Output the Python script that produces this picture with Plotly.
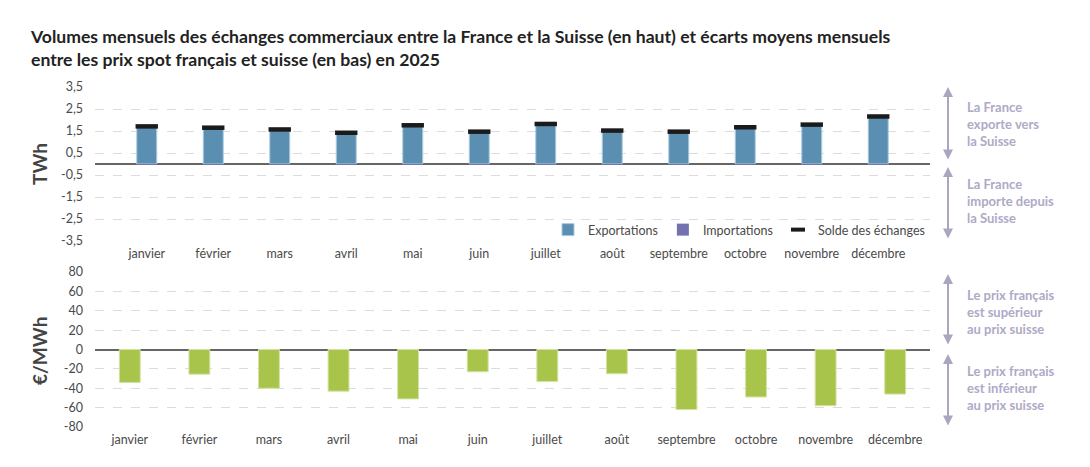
import plotly.graph_objects as go

MONTHS = ['janvier', 'février', 'mars', 'avril', 'mai', 'juin', 'juillet',
          'août', 'septembre', 'octobre', 'novembre', 'décembre']

# TWh
EXPORTS = [1.72, 1.66, 1.58, 1.45, 1.78, 1.48, 1.83, 1.53, 1.48, 1.68, 1.80, 2.17]
IMPORTS = [-0.01, -0.01, -0.01, -0.03, -0.02, -0.01, -0.01, -0.01, -0.01, -0.01, -0.01, -0.01]
SOLDE = [1.71, 1.65, 1.57, 1.42, 1.76, 1.47, 1.82, 1.52, 1.47, 1.67, 1.79, 2.16]

# €/MWh
PRICE_SPREAD = [-34, -25.5, -40, -43, -51, -23, -33, -25, -62, -49, -58, -46]

TOP_TICKS = [-3.5, -2.5, -1.5, -0.5, 0.5, 1.5, 2.5, 3.5]
BOTTOM_TICKS = [-80, -60, -40, -20, 0, 20, 40, 60, 80]

# the page body has an 8px margin, so the figure is drawn a bit smaller
OFF = 8
W, H = 1090 - 2 * OFF, 467 - 2 * OFF
FONT = 'Lato'
TICK_COLOR = '#4a4a4a'
NOTE_COLOR = '#aeaac6'
ARROW_COLOR = '#a9a6c0'
SOLDE_COLOR = '#1b1b1b'


def px_x(x):
    return (x - OFF) / W


def px_y(y):
    return 1 - (y - OFF) / H


fig = go.Figure()

fig.add_trace(go.Bar(
    x=MONTHS, y=EXPORTS, name='Exportations',
    marker=dict(color='#5b8fb1', line=dict(color='#a9cbe0', width=1)),
    xaxis='x', yaxis='y',
))
fig.add_trace(go.Bar(
    x=MONTHS, y=IMPORTS, name='Importations',
    marker=dict(color='#7571b0', line=dict(color='#7571b0', width=0)),
    xaxis='x', yaxis='y',
))
fig.add_trace(go.Scatter(
    x=MONTHS, y=SOLDE, name='Solde des échanges', mode='markers',
    legendgroup='solde', showlegend=False,
    marker=dict(symbol='line-ew', size=16, line=dict(color=SOLDE_COLOR, width=4.5)),
    xaxis='x', yaxis='y',
))
# legend entry only (smaller dash)
fig.add_trace(go.Scatter(
    x=[None], y=[None], name='Solde des échanges', mode='markers',
    legendgroup='solde',
    marker=dict(symbol='line-ew', size=10, line=dict(color=SOLDE_COLOR, width=4)),
    xaxis='x', yaxis='y',
))
fig.add_trace(go.Bar(
    x=MONTHS, y=PRICE_SPREAD, name='Écart de prix', showlegend=False,
    marker=dict(color='#a8c44b', line=dict(color='#d3e3a0', width=1)),
    xaxis='x2', yaxis='y2',
))

x_dom = [px_x(95), px_x(930)]
xcommon = dict(
    type='category', showgrid=False, showline=False, zeroline=False,
    ticks='', tickfont=dict(family=FONT, size=12.5, color=TICK_COLOR),
    ticklabelstandoff=3,
    domain=x_dom, fixedrange=True, automargin=False,
)
ycommon = dict(
    showgrid=True, gridcolor='#dcdcdc', griddash='dash', gridwidth=1,
    zeroline=True, zerolinecolor='#666666', zerolinewidth=1.5,
    showline=False, ticks='', automargin=False, ticklabelstandoff=11,
    tickfont=dict(family=FONT, size=12.5, color=TICK_COLOR),
)

fig.update_layout(
    width=W, height=H,
    margin=dict(l=0, r=0, t=0, b=0),
    paper_bgcolor='white', plot_bgcolor='white',
    barmode='relative', bargap=0.7,
    xaxis=dict(**xcommon, anchor='y'),
    xaxis2=dict(**xcommon, anchor='y2'),
    yaxis=dict(**ycommon, domain=[px_y(241), px_y(87)], range=[-3.5, 3.5],
               tickvals=TOP_TICKS,
               ticktext=[f'{v:.1f}'.replace('.', ',') for v in TOP_TICKS]),
    yaxis2=dict(**ycommon, domain=[px_y(427), px_y(272)], range=[-80, 80],
                tickvals=BOTTOM_TICKS,
                ticktext=[str(v) for v in BOTTOM_TICKS]),
    legend=dict(
        orientation='h', x=px_x(930), xanchor='right',
        y=px_y(230), yanchor='middle',
        font=dict(family=FONT, size=12.5, color=TICK_COLOR),
        bgcolor='rgba(0,0,0,0)', itemwidth=30, traceorder='normal',
    ),
    showlegend=True,
)

annotations = [
    dict(text='<b>Volumes mensuels des échanges commerciaux entre la France et la Suisse (en haut) et écarts moyens mensuels<br>'
              'entre les prix spot français et suisse (en bas) en 2025</b>',
         x=px_x(28), y=px_y(24), xanchor='left', yanchor='top', align='left',
         font=dict(family=FONT, size=17.6, color='#222222')),
    dict(text='<b>TWh</b>', x=px_x(39), y=px_y(164), textangle=-90,
         xanchor='center', yanchor='middle',
         font=dict(family=FONT, size=19, color='#444444')),
    dict(text='<b>€/MWh</b>', x=px_x(39), y=px_y(351), textangle=-90,
         xanchor='center', yanchor='middle',
         font=dict(family=FONT, size=19, color='#444444')),
    dict(text='<b>La France<br>exporte vers<br>la Suisse</b>',
         x=px_x(965), y=px_y(124)),
    dict(text='<b>La France<br>importe depuis<br>la Suisse</b>',
         x=px_x(965), y=px_y(201)),
    dict(text='<b>Le prix français<br>est supérieur<br>au prix suisse</b>',
         x=px_x(965), y=px_y(312)),
    dict(text='<b>Le prix français<br>est inférieur<br>au prix suisse</b>',
         x=px_x(965), y=px_y(388)),
]
for a in annotations:
    a.setdefault('xref', 'paper')
    a.setdefault('yref', 'paper')
    a.setdefault('showarrow', False)
    if 'font' not in a:
        a.update(xanchor='left', yanchor='middle', align='left',
                 font=dict(family=FONT, size=13, color=NOTE_COLOR))
    fig.add_annotation(**a)

# double-headed arrows (top px, bottom px)
for y0, y1 in [(87, 161), (167, 240), (274, 346), (354, 427)]:
    fig.add_annotation(
        x=px_x(948), y=px_y(y0), xref='paper', yref='paper',
        ax=0, ay=y1 - y0, axref='pixel', ayref='pixel',
        text='', showarrow=True, arrowside='end+start',
        arrowhead=2, startarrowhead=2, arrowsize=1, startarrowsize=1,
        arrowwidth=2, arrowcolor=ARROW_COLOR,
    )

fig.write_html('out.html')
